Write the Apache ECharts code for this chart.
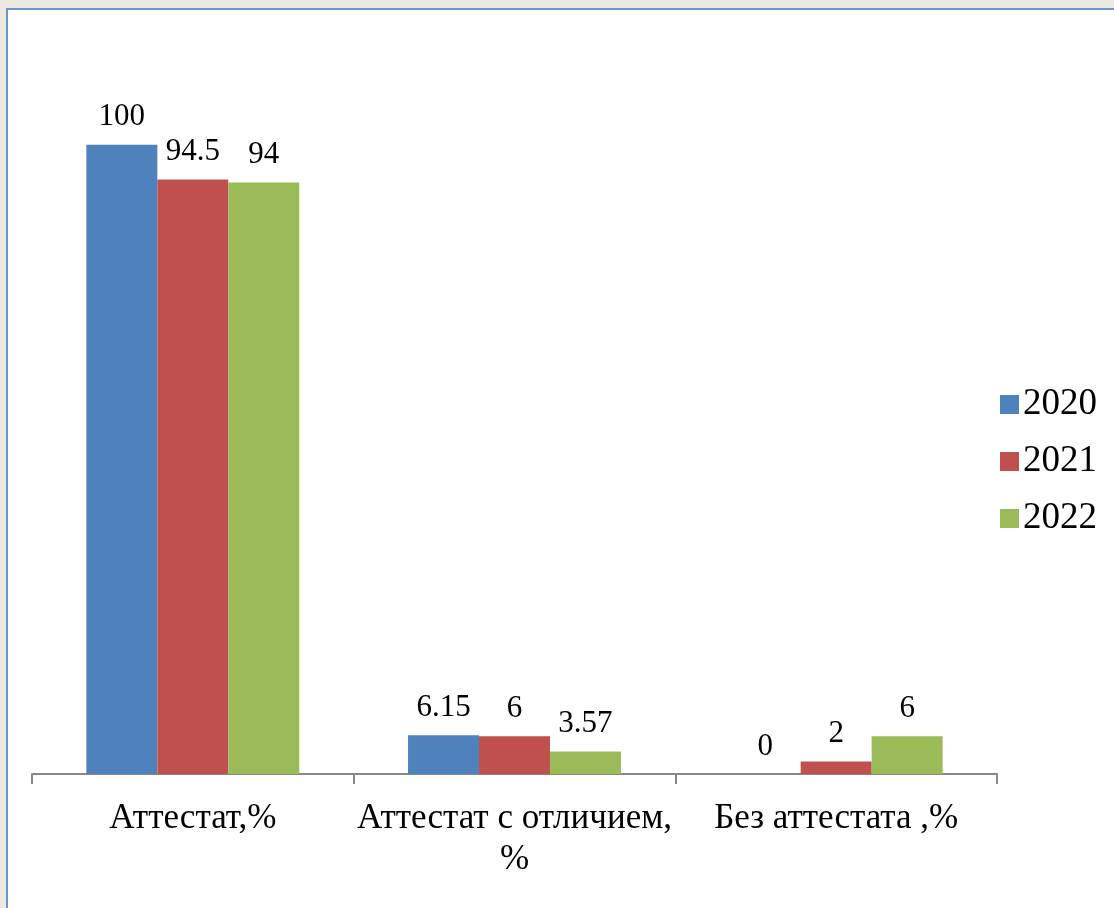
<!DOCTYPE html>
<html>
<head>
<meta charset="utf-8">
<script src="https://cdn.jsdelivr.net/npm/echarts@6/dist/echarts.min.js"></script>
<style>
  html, body { margin: 0; padding: 0; width: 1114px; height: 908px; background: #ECE9E0; overflow: hidden; }
  #frame { position: absolute; left: 6px; top: 8px; width: 1108px; height: 900px; background: #ffffff;
           border-left: 2px solid #6A93CF; border-top: 2px solid #6A93CF; box-sizing: border-box; }
  #chart { position: absolute; left: 0; top: 0; width: 1114px; height: 908px; }
</style>
</head>
<body>
<div id="frame"></div>
<div id="chart"></div>
<script>
const categories = ['Аттестат,%', 'Аттестат с отличием,\n%', 'Без аттестата ,%'];
const seriesNames = ['2020', '2021', '2022'];
const values2020 = [100, 6.15, 0];
const values2021 = [94.5, 6, 2];
const values2022 = [94, 3.57, 6];
const colors = ['#4F81BD', '#C0504D', '#9BBB59'];

const FONT = "Liberation Serif";
const allValues = [values2020, values2021, values2022];

const chart = echarts.init(document.getElementById('chart'), null, { renderer: 'canvas' });
chart.setOption({
  backgroundColor: 'transparent',
  animation: false,
  textStyle: { fontFamily: FONT },
  grid: { left: 32, right: 117, top: 19, bottom: 134, containLabel: false },
  legend: {
    orient: 'vertical',
    left: 995,
    top: 381,
    itemWidth: 19,
    itemHeight: 19,
    itemGap: 20,
    icon: 'rect',
    textStyle: { fontFamily: FONT, fontSize: 37, color: '#000', padding: [0, 0, 0, -1] },
    data: seriesNames
  },
  xAxis: {
    type: 'category',
    data: categories,
    boundaryGap: true,
    axisLine: { lineStyle: { color: '#888888', width: 2 } },
    axisTick: { show: true, length: 10, alignWithLabel: false, lineStyle: { color: '#888888', width: 2 } },
    axisLabel: {
      interval: 0,
      fontFamily: FONT,
      fontSize: 35,
      color: '#000',
      margin: 24,
      lineHeight: 41
    }
  },
  yAxis: {
    type: 'value',
    min: 0,
    max: 120,
    show: false,
    splitLine: { show: false }
  },
  series: seriesNames.map((name, i) => ({
    name: name,
    type: 'bar',
    data: allValues[i],
    barGap: '0%',
    barCategoryGap: '33.8%',
    itemStyle: { color: colors[i] },
    label: {
      show: true,
      position: 'top',
      distance: 12,
      fontFamily: FONT,
      fontSize: 31,
      color: '#000'
    }
  }))
});
</script>
</body>
</html>
